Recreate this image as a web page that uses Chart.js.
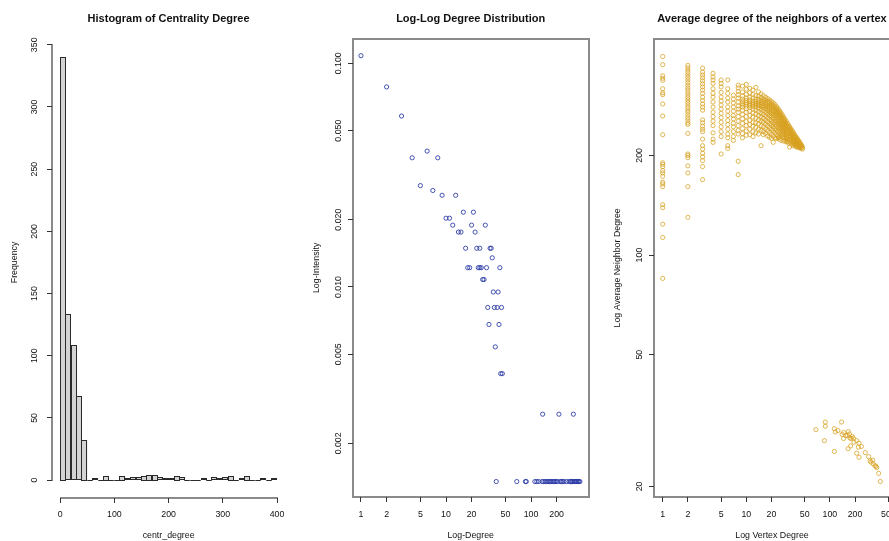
<!DOCTYPE html>
<html>
<head>
<meta charset="utf-8">
<script src="https://cdn.jsdelivr.net/npm/chart.js@4.4.1/dist/chart.umd.min.js"></script>
<style>
  html, body { margin: 0; padding: 0; background: #fff; overflow: hidden; width: 889px; height: 541px; }
  canvas { position: absolute; top: 0; }
</style>
</head>
<body>
<canvas id="hist" width="300" height="541" style="left:0px"></canvas>
<canvas id="loglog" width="300" height="541" style="left:300px"></canvas>
<canvas id="knn" width="330" height="541" style="left:600px"></canvas>
<script>
// ---- histogram of centr_degree (bins of width 10) ----
const histBinMid = [5, 15, 25, 35, 45, 55, 65, 75, 85, 95, 105, 115, 125, 135, 145, 155, 165, 175, 185, 195,
  205, 215, 225, 235, 245, 255, 265, 275, 285, 295, 305, 315, 325, 335, 345, 355, 365, 375, 385, 395];
const histCounts = [340, 133, 108, 67, 32, 0, 1, 0, 3, 0, 0, 3, 1, 2, 2, 3, 4, 4, 2, 1,
  1, 3, 2, 0, 0, 0, 1, 0, 2, 1, 2, 3, 0, 1, 3, 0, 0, 1, 0, 1];
const histXTicks = [0, 100, 200, 300, 400];
const histYTicks = [0, 50, 100, 150, 200, 250, 300, 350];

// ---- log-log degree distribution: [degree, intensity] ----
const llPoints = [
  [1, 0.1081], [2, 0.0784], [3, 0.0581], [6, 0.0405], [4, 0.0378], [8, 0.0378], [5, 0.0284], [7, 0.0270],
  [9, 0.0257], [13, 0.0257], [16, 0.0216], [21, 0.0216], [10, 0.0203], [11, 0.0203],
  [12, 0.0189], [20, 0.0189], [29, 0.0189], [14, 0.0176], [15, 0.0176], [22, 0.0176],
  [17, 0.0149], [23, 0.0149], [25, 0.0149], [33, 0.0149], [34, 0.0149], [35, 0.0135],
  [18, 0.0122], [19, 0.0122], [24, 0.0122], [25, 0.0122], [26, 0.0122], [30, 0.0122], [43, 0.0122],
  [27, 0.0108], [28, 0.0108], [36, 0.0095], [41, 0.0095],
  [31, 0.0081], [37, 0.0081], [40, 0.0081], [45, 0.0081], [32, 0.0068], [42, 0.0068],
  [38, 0.0054], [44, 0.0041], [46, 0.0041],
  [137, 0.0027], [213, 0.0027], [315, 0.0027],
  [39, 0.00135], [68, 0.00135], [86, 0.00135], [88, 0.00135], [111, 0.00135], [117, 0.00135], [123, 0.00135],
  [135, 0.00135], [141, 0.00135], [147, 0.00135], [153, 0.00135], [159, 0.00135], [165, 0.00135],
  [171, 0.00135], [177, 0.00135], [184, 0.00135], [190, 0.00135], [197, 0.00135], [204, 0.00135],
  [220, 0.00135], [228, 0.00135], [236, 0.00135], [245, 0.00135], [263, 0.00135], [282, 0.00135],
  [292, 0.00135], [300, 0.00135], [308, 0.00135], [322, 0.00135], [330, 0.00135], [338, 0.00135],
  [346, 0.00135], [356, 0.00135], [365, 0.00135], [376, 0.00135]
];
const llXTicks = [1, 2, 5, 10, 20, 50, 100, 200];
const llYTicks = [0.002, 0.005, 0.010, 0.020, 0.050, 0.100];
const llYTickLabels = ['0.002', '0.005', '0.010', '0.020', '0.050', '0.100'];

// ---- average neighbour degree by vertex degree: [degree, [knn values]] ----
const knnByDegree = [
  [1, [398, 376, 348, 342, 337, 318, 309, 305, 286, 263, 231, 190, 188, 185, 180, 177, 173, 166, 164, 161, 142, 139, 124, 113, 85]],
  [2, [374, 368, 362, 356, 350, 344, 338, 332, 326, 320, 315, 309, 304, 299, 294, 289, 284, 279, 274, 270, 265, 260, 256, 251, 248, 233, 202, 200, 197, 186, 177, 161, 130]],
  [3, [367, 357, 350, 343, 336, 329, 322, 315, 308, 300, 293, 286, 280, 274, 256, 251, 245, 240, 236, 224, 214, 209, 203, 198, 193, 185, 169]],
  [4, [354, 345, 338, 330, 318, 308, 300, 290, 280, 270, 262, 254, 246, 234, 224, 219]],
  [5, [338, 330, 322, 310, 300, 292, 284, 276, 268, 260, 252, 244, 236, 228, 202]],
  [6, [338, 318, 308, 298, 290, 280, 272, 264, 255, 248, 240, 232, 226, 214, 210]],
  [7, [304, 296, 288, 280, 272, 264, 258, 250, 244, 236, 228, 222]],
  [8, [326, 320, 312, 305, 298, 290, 282, 276, 270, 262, 254, 246, 238, 232, 192, 175]],
  [9, [324, 311, 302, 296, 291, 287, 284, 280, 274, 266, 258, 250, 241, 233, 226]],
  [10, [328, 317, 306, 298, 293, 289, 286, 282, 277, 270, 262, 253, 246, 237, 230]],
  [11, [319, 309, 300, 294, 290, 286, 283, 279, 272, 264, 255, 248, 240, 231]],
  [12, [315, 306, 298, 292, 288, 285, 281, 276, 269, 261, 252, 245, 236, 228]],
  [13, [321, 303, 296, 291, 287, 284, 280, 274, 267, 259, 251, 243, 234]],
  [14, [311, 302, 295, 290, 286, 283, 278, 271, 264, 256, 249, 240, 232]],
  [15, [307, 299, 293, 288, 285, 281, 276, 269, 262, 254, 246, 238, 214]],
  [16, [303, 296, 291, 287, 283, 279, 273, 266, 259, 252, 244, 236, 231]],
  [17, [300, 294, 289, 285, 281, 276, 270, 263, 256, 249, 241, 233]],
  [18, [297, 291, 287, 282, 278, 273, 267, 260, 253, 246, 238, 229]],
  [19, [294, 289, 284, 280, 275, 270, 264, 257, 250, 243, 235, 227]],
  [20, [291, 286, 282, 277, 272, 267, 261, 254, 247, 240, 232, 225]],
  [21, [288, 283, 279, 274, 269, 264, 258, 251, 244, 237, 229, 219]],
  [22, [285, 280, 276, 271, 266, 260, 254, 248, 241, 234, 226]],
  [23, [281, 277, 272, 268, 263, 257, 251, 245, 238, 231, 225]],
  [24, [277, 273, 269, 264, 259, 254, 248, 242, 236, 229, 226]],
  [25, [273, 269, 265, 260, 255, 250, 245, 239, 233, 227, 224]],
  [26, [269, 265, 261, 256, 251, 246, 241, 236, 230, 222]],
  [27, [265, 261, 257, 252, 248, 243, 238, 232, 227]],
  [28, [261, 257, 253, 249, 244, 239, 234, 229, 221]],
  [29, [257, 253, 249, 245, 241, 236, 231, 226, 222]],
  [30, [254, 250, 246, 242, 237, 233, 228, 224, 220]],
  [31, [250, 245, 241, 236, 231, 226, 220]],
  [32, [247, 243, 238, 233, 228, 223, 218]],
  [33, [244, 240, 235, 230, 226, 221, 212]],
  [34, [241, 237, 232, 228, 223, 218]],
  [35, [238, 234, 230, 226, 221, 216]],
  [36, [236, 232, 228, 223, 219, 214]],
  [37, [233, 229, 225, 221, 217]],
  [38, [230, 227, 223, 219, 215]],
  [39, [228, 224, 220, 217, 213]],
  [40, [226, 222, 219, 215, 212]],
  [41, [224, 220, 217, 213]],
  [42, [222, 219, 215, 212]],
  [43, [220, 217, 214, 211]],
  [44, [218, 215, 212]],
  [45, [216, 213, 210]],
  [46, [214, 211]],
  [47, [212, 209]]
];
// high-degree vertices: [degree, knn]
const knnTail = [
  [68, 29.7], [88, 31.3], [88, 30.4], [86, 27.5], [113, 29.9], [116, 29.2], [113, 25.5], [125, 29.5],
  [138, 31.3], [140, 28.7], [146, 29.1], [146, 27.9], [155, 28.5], [162, 28.5], [166, 29.3], [171, 28.8],
  [165, 26.0], [174, 28.0], [180, 27.9], [185, 28.3], [191, 28.0], [194, 27.2], [177, 26.5], [209, 27.5],
  [223, 27.0], [219, 26.3], [238, 26.4], [209, 25.2], [223, 24.5], [265, 25.3], [291, 24.6], [302, 23.9],
  [310, 23.7], [325, 24.0], [330, 23.4], [346, 23.1], [356, 23.0], [363, 22.8], [383, 21.9], [401, 20.7]
];
const knnXTicks = [1, 2, 5, 10, 20, 50, 100, 200, 500];
const knnYTicks = [20, 50, 100, 200];

const FONT = '"Liberation Sans", Arial, sans-serif';
const crisp = v => Math.round(v - 0.5) + 0.5;

// R-like axes, titles and bar outlines, positioned from the chart's own scales
const rStyle = {
  id: 'rStyle',
  afterDatasetsDraw(chart, args, o) {
    if (!o.outlineBars) return;
    const ctx = chart.ctx;
    ctx.save();
    ctx.strokeStyle = '#2a2a2a';
    ctx.lineWidth = 1;
    chart.getDatasetMeta(0).data.forEach(bar => {
      const p = bar.getProps(['x', 'y', 'base', 'width'], true);
      ctx.strokeRect(crisp(p.x - p.width / 2), crisp(p.y), Math.round(p.width), Math.round(p.base - p.y));
    });
    ctx.restore();
  },
  afterDraw(chart, args, o) {
    const {ctx, chartArea: a} = chart;
    const xs = chart.scales.x, ys = chart.scales.y;
    const xp = o.xTicks.map(v => xs.getPixelForValue(v));
    const yp = o.yTicks.map(v => ys.getPixelForValue(v));
    ctx.save();
    ctx.fillStyle = '#111';
    ctx.textAlign = 'center';
    ctx.font = 'bold 11px ' + FONT;
    ctx.fillText(o.title, (a.left + a.right) / 2, 22);

    // axis lines / box
    ctx.strokeStyle = '#8a8a8a';
    ctx.lineWidth = 2;
    if (o.box) {
      ctx.strokeRect(Math.round(a.left), Math.round(a.top), Math.round(a.right - a.left), Math.round(a.bottom - a.top));
    } else {
      ctx.beginPath();
      ctx.moveTo(crisp(xp[0]) - 0.5, Math.round(a.bottom));
      ctx.lineTo(crisp(xp[xp.length - 1]) + 0.5, Math.round(a.bottom));
      ctx.moveTo(Math.round(a.left), crisp(yp[0]) + 0.5);
      ctx.lineTo(Math.round(a.left), crisp(yp[yp.length - 1]) - 0.5);
      ctx.stroke();
    }

    // tick marks
    ctx.strokeStyle = '#333';
    ctx.lineWidth = 1;
    ctx.beginPath();
    xp.forEach(p => { ctx.moveTo(crisp(p), Math.round(a.bottom)); ctx.lineTo(crisp(p), Math.round(a.bottom) + 5); });
    yp.forEach(p => { ctx.moveTo(Math.round(a.left), crisp(p)); ctx.lineTo(Math.round(a.left) - 5, crisp(p)); });
    ctx.stroke();

    // labels
    ctx.font = '8.8px ' + FONT;
    xp.forEach((p, i) => ctx.fillText(String(o.xTicks[i]), p, 517));
    ctx.fillText(o.xLabel, (a.left + a.right) / 2, 538);
    ctx.textBaseline = 'middle';
    const yLabels = o.yTickLabels || o.yTicks.map(String);
    yp.forEach((p, i) => {
      ctx.save();
      ctx.translate(a.left - o.yTickGap, p);
      ctx.rotate(-Math.PI / 2);
      ctx.fillText(yLabels[i], 0, 0);
      ctx.restore();
    });
    ctx.translate(a.left - 36.5, (a.top + a.bottom) / 2);
    ctx.rotate(-Math.PI / 2);
    ctx.fillText(o.yLabel, 0, 0);
    ctx.restore();
  }
};

const baseOptions = (padding, pluginOpts, scales) => ({
  responsive: false,
  animation: false,
  devicePixelRatio: 1,
  events: [],
  layout: { padding },
  scales,
  plugins: { legend: { display: false }, tooltip: { enabled: false }, rStyle: pluginOpts }
});

new Chart(document.getElementById('hist'), {
  type: 'bar',
  data: {
    datasets: [{
      data: histBinMid.map((m, i) => ({ x: m, y: histCounts[i] })),
      backgroundColor: '#d3d3d3',
      borderWidth: 0,
      inflateAmount: 0,
      barPercentage: 1,
      categoryPercentage: 1
    }]
  },
  options: baseOptions(
    { left: 51.5, right: 14.3, top: 27.4, bottom: 43.5 },
    { title: 'Histogram of Centrality Degree', xLabel: 'centr_degree', yLabel: 'Frequency',
      xTicks: histXTicks, yTicks: histYTicks, yTickGap: 16.7, box: false, outlineBars: true },
    {
      x: { type: 'linear', min: -16, max: 416, offset: false, display: false },
      y: { type: 'linear', min: -14, max: 364, display: false }
    }),
  plugins: [rStyle]
});

new Chart(document.getElementById('loglog'), {
  type: 'scatter',
  data: {
    datasets: [{
      data: llPoints.map(([d, v]) => ({ x: d, y: v })),
      pointStyle: 'circle',
      pointRadius: 2.1,
      borderWidth: 1,
      borderColor: 'rgba(40, 55, 165, 0.85)',
      backgroundColor: 'rgba(0, 0, 0, 0)'
    }]
  },
  options: baseOptions(
    { left: 52.7, right: 11.3, top: 39, bottom: 44.3 },
    { title: 'Log-Log Degree Distribution', xLabel: 'Log-Degree', yLabel: 'Log-Intensity',
      xTicks: llXTicks, yTicks: llYTicks, yTickLabels: llYTickLabels, yTickGap: 14.6, box: true },
    {
      x: { type: 'logarithmic', min: 0.799, max: 477, display: false },
      y: { type: 'logarithmic', min: 0.001155, max: 0.1284, display: false }
    }),
  plugins: [rStyle]
});

const knnData = [];
knnByDegree.forEach(([k, vals]) => vals.forEach(v => knnData.push({ x: k, y: v })));
knnTail.forEach(([k, v]) => knnData.push({ x: k, y: v }));

new Chart(document.getElementById('knn'), {
  type: 'scatter',
  data: {
    datasets: [{
      data: knnData,
      pointStyle: 'circle',
      pointRadius: 2.1,
      borderWidth: 1,
      borderColor: 'rgba(215, 160, 30, 0.75)',
      backgroundColor: 'rgba(0, 0, 0, 0)'
    }]
  },
  options: baseOptions(
    { left: 54, right: 40, top: 39, bottom: 44.3 },
    { title: 'Average degree of the neighbors of a vertex', xLabel: 'Log Vertex Degree',
      yLabel: 'Log Average Neighbor Degree', xTicks: knnXTicks, yTicks: knnYTicks, yTickGap: 14.2, box: true },
    {
      x: { type: 'logarithmic', min: 0.787, max: 523.6, display: false },
      y: { type: 'logarithmic', min: 18.62, max: 449.5, display: false }
    }),
  plugins: [rStyle]
});
</script>
</body>
</html>
